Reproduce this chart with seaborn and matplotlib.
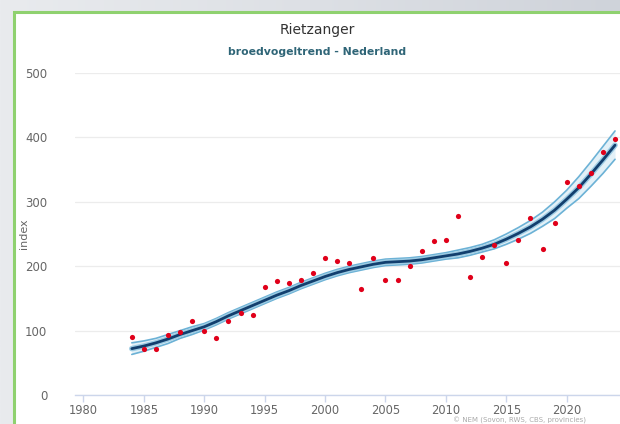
import numpy as np
import pandas as pd
import matplotlib
matplotlib.use("Agg")
import matplotlib.pyplot as plt
from matplotlib.patches import Rectangle
from matplotlib.colors import LinearSegmentedColormap
import seaborn as sns

# ---- data ----
years = list(range(1984, 2025))
index_points = [90, 72, 72, 93, 98, 115, 100, 88, 115, 128, 125,
                168, 177, 174, 179, 189, 213, 208, 205, 165, 212,
                179, 179, 200, 223, 239, 241, 278, 183, 215, 233,
                205, 241, 275, 226, 267, 331, 325, 345, 378, 397]
trend = [72, 76, 81, 87, 94, 100, 106, 114, 123, 131, 139,
         147, 155, 162, 170, 177, 184, 190, 195, 199, 203,
         206, 207, 208, 210, 213, 216, 219, 223, 228, 234,
         242, 251, 261, 273, 287, 304, 322, 343, 365, 388]
trend_low = [63, 68, 74, 80, 88, 94, 101, 109, 118, 126, 134,
             142, 150, 157, 165, 172, 179, 185, 190, 194, 198,
             201, 202, 203, 205, 208, 211, 213, 217, 222, 227,
             234, 242, 251, 262, 274, 290, 305, 324, 344, 366]
trend_high = [81, 84, 88, 94, 100, 106, 111, 119, 128, 136, 144,
              152, 160, 167, 175, 182, 189, 195, 200, 204, 208,
              211, 212, 213, 215, 218, 221, 225, 229, 234, 241,
              250, 260, 271, 284, 300, 318, 339, 362, 386, 410]
x_ticks = [1980, 1985, 1990, 1995, 2000, 2005, 2010, 2015, 2020]
y_ticks = [0, 100, 200, 300, 400, 500]

title = "Rietzanger"
subtitle = "broedvogeltrend - Nederland"
y_label = "index"
credit = "\u00a9 NEM (Sovon, RWS, CBS, provincies)"

df = pd.DataFrame({"year": years, "index": index_points, "trend": trend,
                   "low": trend_low, "high": trend_high})

sns.set_theme(style="white")
plt.rcParams['font.family'] = ['DejaVu Sans']

W, H = 620, 424
fig = plt.figure(figsize=(W / 100, H / 100), dpi=100)

# background gradient (photo of a screen)
bg = fig.add_axes([0, 0, 1, 1], zorder=-10)
grad = np.linspace(0, 1, 256).reshape(1, -1)
cmap = LinearSegmentedColormap.from_list("bg", ["#e9ebee", "#dde0e5", "#cfd3da"])
bg.imshow(grad, aspect="auto", cmap=cmap, extent=[0, 1, 0, 1])
bg.set_axis_off()

# white panel with green border
panel = Rectangle((14 / W, -0.05), 1.0, (H - 12) / H + 0.05, transform=fig.transFigure,
                  facecolor="white", edgecolor="#8fd16f", linewidth=2.2, zorder=-5)
fig.patches.append(panel)

ax = fig.add_axes([75 / W, 29 / H, (W - 75) / W, 322 / H])
ax.set_facecolor("none")

x0 = 1980 - (83.5 - 75) / 12.08
ax.set_xlim(x0, x0 + 545 / 12.08)
ax.set_ylim(0, 500)

# confidence band
ax.fill_between(df["year"], df["low"], df["high"], color="#e3f1f8", linewidth=0, zorder=2)
sns.lineplot(data=df, x="year", y="low", ax=ax, color="#6cb2d6", linewidth=1.2, zorder=3)
sns.lineplot(data=df, x="year", y="high", ax=ax, color="#6cb2d6", linewidth=1.2, zorder=3)
sns.lineplot(data=df, x="year", y="trend", ax=ax, color="#9ccbe3", linewidth=4.0, zorder=4)
sns.lineplot(data=df, x="year", y="trend", ax=ax, color="#123f6e", linewidth=2.0, zorder=5)
sns.scatterplot(data=df, x="year", y="index", ax=ax, color="#e0001a", s=14,
                linewidth=0, zorder=6)

ax.set_xticks(x_ticks)
ax.set_yticks(y_ticks)
ax.set_xticklabels([str(t) for t in x_ticks])
ax.set_yticklabels([str(t) for t in y_ticks])
ax.grid(axis="y", color="#ececec", linewidth=0.9)
ax.grid(axis="x", visible=False)
for s in ["top", "right", "left"]:
    ax.spines[s].set_visible(False)
ax.spines["bottom"].set_color("#ccd6eb")
ax.spines["bottom"].set_linewidth(1.0)
ax.tick_params(axis="x", bottom=True, length=5, width=1, color="#ccd6eb",
               labelsize=8.3, labelcolor="#666666", pad=1.5)
ax.tick_params(axis="y", left=False, labelsize=8.5, labelcolor="#666666", pad=14)
ax.set_xlabel("")
ax.set_ylabel(y_label, fontsize=8, color="#666666")
ax.yaxis.set_label_coords((29 - 75) / 545, 0.5)

fig.text(317 / W, 1 - 30 / H, title, ha="center", va="center", fontsize=10, color="#333333")
fig.text(317 / W, 1 - 52 / H, subtitle, ha="center", va="center", fontsize=7.8,
         color="#2f6577", fontweight="semibold")
fig.text(453 / W, 0.5 / H, credit, ha="left", va="bottom", fontsize=5, color="#aaaaaa")

fig.savefig("out.png", dpi=100, facecolor=fig.get_facecolor())
